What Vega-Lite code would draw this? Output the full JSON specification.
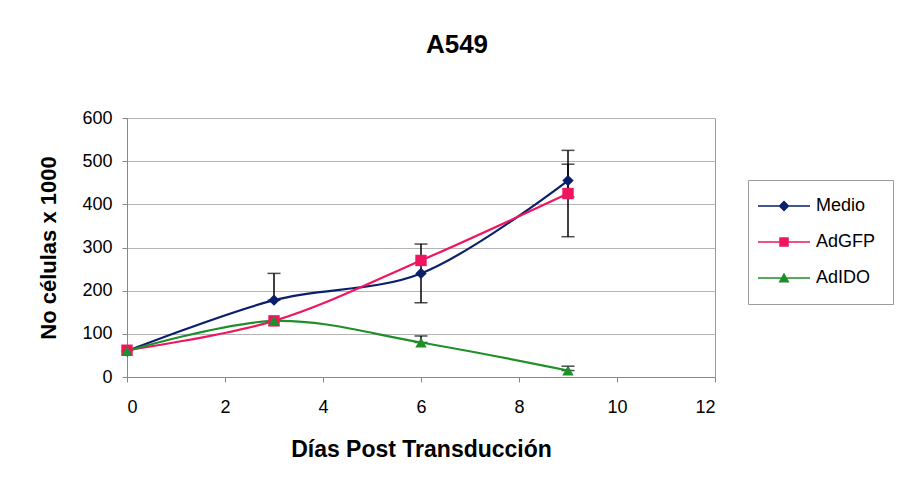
{
  "$schema": "https://vega.github.io/schema/vega-lite/v6.json",
  "width": 588,
  "height": 259,
  "autosize": {"type": "none"},
  "padding": {"left": 127, "top": 118, "right": 183, "bottom": 113},
  "background": "white",
  "config": {
    "font": "Liberation Sans",
    "view": {"stroke": "#9a9a9a", "strokeWidth": 1}
  },
  "title": {"text": "A549", "font": "Liberation Sans", "fontSize": 26, "fontWeight": "bold", "color": "#000", "anchor": "middle", "dx": 36, "offset": 51},
  "data": {
    "values": [
      {"series": "Medio", "day": 0, "value": 60, "lo": null, "hi": null},
      {"series": "Medio", "day": 3, "value": 178, "lo": 178, "hi": 240},
      {"series": "Medio", "day": 6, "value": 240, "lo": 172, "hi": 308},
      {"series": "Medio", "day": 9, "value": 455, "lo": 417, "hi": 493},
      {"series": "AdGFP", "day": 0, "value": 62, "lo": null, "hi": null},
      {"series": "AdGFP", "day": 3, "value": 130, "lo": null, "hi": null},
      {"series": "AdGFP", "day": 6, "value": 270, "lo": null, "hi": null},
      {"series": "AdGFP", "day": 9, "value": 425, "lo": 325, "hi": 525},
      {"series": "AdIDO", "day": 0, "value": 60, "lo": null, "hi": null},
      {"series": "AdIDO", "day": 3, "value": 130, "lo": null, "hi": null},
      {"series": "AdIDO", "day": 6, "value": 80, "lo": 80, "hi": 95},
      {"series": "AdIDO", "day": 9, "value": 15, "lo": 15, "hi": 25}
    ]
  },
  "resolve": {
    "scale": {"color": "independent", "shape": "independent"},
    "legend": {"color": "independent", "shape": "independent"}
  },
  "encoding": {
    "x": {
      "field": "day", "type": "quantitative",
      "scale": {"domain": [0, 12], "nice": false, "zero": false},
      "axis": {
        "title": "Días Post Transducción", "values": [0, 2, 4, 6, 8, 10, 12], "grid": false,
        "labelFontSize": 18, "labelColor": "#000", "labelPadding": 16, "tickSize": 5, "tickColor": "#888", "domainColor": "#888",
        "titleFontSize": 23, "titleFontWeight": "bold", "titleColor": "#000", "titlePadding": 22
      }
    },
    "y": {
      "field": "value", "type": "quantitative",
      "scale": {"domain": [0, 600], "nice": false},
      "axis": {
        "title": "No células x 1000", "values": [0, 100, 200, 300, 400, 500, 600], "grid": true, "gridColor": "#b4b4b4",
        "labelFontSize": 18, "labelColor": "#000", "labelPadding": 10, "tickSize": 5, "tickColor": "#888", "domainColor": "#888",
        "titleFontSize": 22, "titleFontWeight": "bold", "titleColor": "#000", "titlePadding": 21
      }
    }
  },
  "layer": [
    {
      "transform": [{"filter": "datum.lo != null"}],
      "mark": {"type": "errorbar", "color": "black", "thickness": 1.5, "ticks": {"size": 13, "thickness": 1.5}},
      "encoding": {
        "x": {"field": "day", "type": "quantitative"},
        "y": {"field": "lo", "type": "quantitative"},
        "y2": {"field": "hi"}
      }
    },
    {
      "mark": {"type": "line", "interpolate": "catmull-rom", "strokeWidth": 2.2},
      "encoding": {
        "color": {
          "field": "series", "type": "nominal",
          "scale": {"domain": ["Medio", "AdGFP", "AdIDO"], "range": ["#0b1f6b", "#f0155f", "#1f8f2a"]},
          "legend": null
        },
        "detail": {"field": "series"}
      }
    },
    {
      "mark": {"type": "point", "filled": true, "size": 130, "opacity": 1},
      "encoding": {
        "color": {
          "field": "series", "type": "nominal",
          "scale": {"domain": ["Medio", "AdGFP", "AdIDO"], "range": ["#0b1f6b", "#f0155f", "#1f8f2a"]},
          "legend": null
        },
        "shape": {"field": "series", "type": "nominal", "scale": {"domain": ["Medio", "AdGFP", "AdIDO"], "range": ["diamond", "square", "triangle-up"]}, "legend": null}
      }
    },
    {
      "transform": [{"filter": "datum.day < 0"}],
      "mark": {"type": "point", "filled": true, "size": 100, "opacity": 1},
      "encoding": {
        "color": {
          "field": "series", "type": "nominal",
          "scale": {"domain": ["Medio", "AdGFP", "AdIDO"], "range": ["#0b1f6b", "#f0155f", "#1f8f2a"]},
          "legend": {
            "title": null, "orient": "none", "legendX": 621, "legendY": 62,
            "strokeColor": "#9a9a9a", "fillColor": "white", "padding": 17, "rowPadding": 18,
            "symbolOffset": 10, "labelOffset": 23, "labelFontSize": 18, "labelColor": "#000", "labelFont": "Liberation Sans", "symbolSize": 100, "symbolOpacity": 1
          }
        },
        "shape": {
          "field": "series", "type": "nominal",
          "scale": {"domain": ["Medio", "AdGFP", "AdIDO"], "range": [
            "M-5.2,-0.17L5.2,-0.17L5.2,0.17L-5.2,0.17Z M0,-1.1L1.1,0L0,1.1L-1.1,0Z",
            "M-5.2,-0.17L5.2,-0.17L5.2,0.17L-5.2,0.17Z M-0.95,-0.95L0.95,-0.95L0.95,0.95L-0.95,0.95Z",
            "M-5.2,-0.17L5.2,-0.17L5.2,0.17L-5.2,0.17Z M0,-1.1L1.1,0.9L-1.1,0.9Z"
          ]},
          "legend": {
            "title": null, "orient": "none", "legendX": 621, "legendY": 62,
            "strokeColor": "#9a9a9a", "fillColor": "white", "padding": 17, "rowPadding": 18,
            "symbolOffset": 10, "labelOffset": 23, "labelFontSize": 18, "labelColor": "#000", "labelFont": "Liberation Sans", "symbolSize": 100, "symbolOpacity": 1
          }
        }
      }
    }
  ]
}
